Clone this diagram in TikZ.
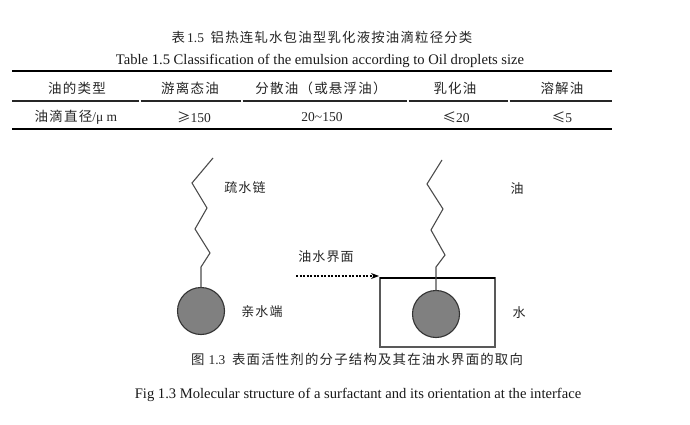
\documentclass[tikz,border=0pt]{standalone}
\usepackage{fontspec}
\setmainfont{Liberation Serif}
\newfontfamily\cjk[LetterSpace=9]{Noto Sans CJK SC}
\newfontfamily\cjkplain{Noto Sans CJK SC}
\usetikzlibrary{arrows.meta}
\begin{document}
\begin{tikzpicture}[x=1pt,y=-1pt,
  every node/.style={inner sep=0pt,outer sep=0pt,anchor=center},
  cjktext/.style={font=\fontsize{13.4}{15}\selectfont\cjk,text=black!85},
  entext/.style={font=\fontsize{14.6}{16}\selectfont,text=black!90},
  cell/.style={font=\fontsize{13.5}{15}\selectfont,text=black!85},
  thickrule/.style={line width=2.6pt,black},
  midrule/.style={line width=1.3pt,black!85},
  chain/.style={line width=1.1pt,black!70,line join=miter},
  head/.style={circle,minimum size=47pt,fill=black!50,draw=black!80,line width=1.1pt},
  water/.style={rectangle,minimum width=115pt,minimum height=69pt,draw=black!65,line width=1.2pt},
  label/.style={font=\fontsize{13}{15}\selectfont\cjk,text=black!85}
]
\useasboundingbox (0,0) rectangle (690,425);
\fill[white] (0,0) rectangle (690,425);

% titles
\node[cjktext] (title) at (322,37) {表\,\fontspec{Liberation Serif}1.5\ \ \cjk 铝热连轧水包油型乳化液按油滴粒径分类};
\node[entext] (subtitle) at (320,61) {Table 1.5 Classification of the emulsion according to Oil droplets size};

% table rules
\coordinate (tl) at (12,71); \coordinate (tr) at (612,71);
\coordinate (bl) at (12,129); \coordinate (br) at (612,129);
\draw[thickrule] (tl) -- (tr);
\draw[thickrule] (bl) -- (br);
\draw[midrule] (12,101) -- (139.3,101);
\draw[midrule] (140.7,101) -- (241.3,101);
\draw[midrule] (242.7,101) -- (407.3,101);
\draw[midrule] (408.7,101) -- (508.3,101);
\draw[midrule] (509.7,101) -- (612,101);

% header row
\node[cell] (h1) at (77,88) {\cjk 油的类型};
\node[cell] (h2) at (190,88) {\cjk 游离态油};
\node[cell] (h3) at (321,88) {\cjk 分散油（或悬浮油）};
\node[cell] (h4) at (455,88) {\cjk 乳化油};
\node[cell] (h5) at (562,88) {\cjk 溶解油};
% data row
\node[cell] (d1) at (76,117) {{\cjk 油滴直径}/μ m};
\node[cell] (d2) at (194,117) {{\cjkplain ≥}150};
\node[cell] (d3) at (322,117) {20\textasciitilde150};
\node[cell] (d4) at (456,117) {{\cjkplain ≤}20};
\node[cell] (d5) at (562,117) {{\cjkplain ≤}5};

% left molecule
\node[head] (lhead) at (201,311) {};
\coordinate (l1) at (201,267);
\coordinate (l2) at (210,253);
\coordinate (l3) at (195,229);
\coordinate (l4) at (207,208);
\coordinate (l5) at (192,183);
\coordinate (l6) at (213,158);
\draw[chain] (lhead.north) -- (l1) -- (l2) -- (l3) -- (l4) -- (l5) -- (l6);
\node[label] (phob) at (245,188) {疏水链};
\node[label] (phil) at (262,312) {亲水端};

% right molecule at interface
\node[water] (box) at (437.5,312.5) {};
\draw[line width=2pt,black] (box.north west) -- (box.north east);
\node[head] (rhead) at (436,314) {};
\coordinate (r1) at (436,267);
\coordinate (r2) at (445,255);
\coordinate (r3) at (431,230);
\coordinate (r4) at (443,209);
\coordinate (r5) at (427,184);
\coordinate (r6) at (442,160);
\draw[chain] (rhead.north) -- (box.north -| rhead) -- (r1) -- (r2) -- (r3) -- (r4) -- (r5) -- (r6);
\node[label] (oil) at (517,189) {油};
\node[label] (wat) at (519,313) {水};

% interface arrow
\coordinate (a0) at (296,276);
\coordinate (a1) at (379,276);
\draw[line width=1.2pt,dash pattern=on 2.2pt off 1.3pt,-{Stealth[length=8pt,width=6pt]}] (a0) -- (a1);
\node[label] (iface) at (326,257) {油水界面};

% figure captions
\node[cjktext] (figcn) at (357,359) {图\ \fontspec{Liberation Serif}1.3\ \ \cjk 表面活性剂的分子结构及其在油水界面的取向};
\node[entext] (figen) at (358,395) {Fig 1.3 Molecular structure of a surfactant and its orientation at the interface};
\end{tikzpicture}
\end{document}
